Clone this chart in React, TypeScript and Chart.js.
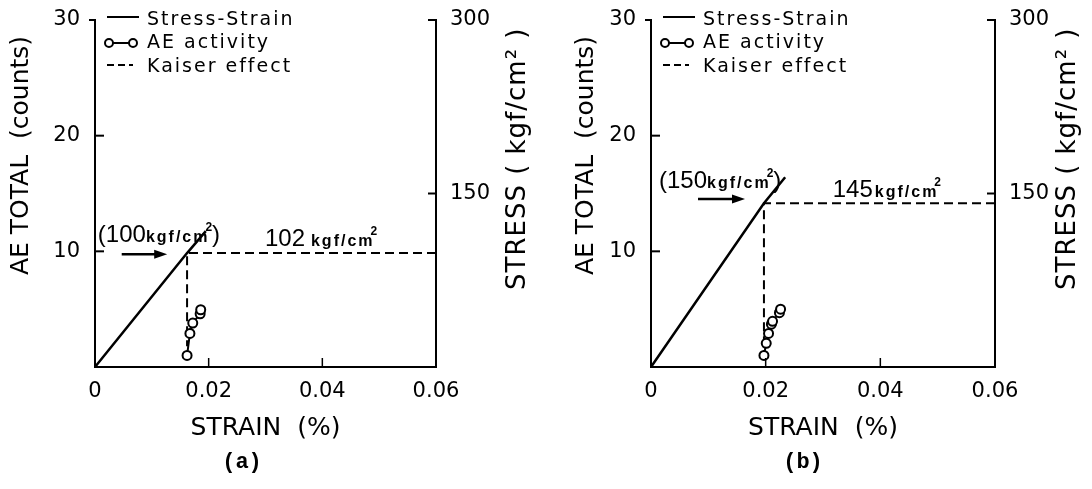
import React, { useEffect, useRef } from "react";
import { Chart, registerables } from "chart.js";

Chart.register(...registerables);

// ---------------- data ----------------
const STRAIN_TICKS = [0, 0.02, 0.04, 0.06];
const COUNT_TICKS = [10, 20, 30];
const STRESS_TICKS = [150, 300];
const LEGEND_LABELS = ["Stress-Strain", "AE activity", "Kaiser effect"];
const STRAIN_TITLE = "STRAIN  (%)";
const COUNT_TITLE = "AE TOTAL  (counts)";
const STRESS_TITLE = "STRESS ( kgf/cm² )";
const UNIT = "kgf/cm";

// panel (a)
const A_SS_STRAIN = [0, 0.0162, 0.0195];
const A_SS_STRESS = [0, 98.5, 117.5];
const A_KAISER_STRAIN = [0.06, 0.0162, 0.0162];
const A_KAISER_STRESS = [98.5, 98.5, 18];
const A_AE_STRAIN = [0.0162, 0.0167, 0.0172, 0.0185, 0.0186];
const A_AE_COUNTS = [1.0, 2.9, 3.8, 4.6, 4.95];
const A_STRESS_LABELS = [100, 102]; // previous loading, detected by Kaiser effect

// panel (b)
const B_SS_STRAIN = [0, 0.0197, 0.0234];
const B_SS_STRESS = [0, 141.5, 164];
const B_KAISER_STRAIN = [0.06, 0.0197, 0.0197];
const B_KAISER_STRESS = [141.5, 141.5, 8];
const B_AE_STRAIN = [0.0197, 0.0201, 0.0205, 0.021, 0.0212, 0.0224, 0.0226];
const B_AE_COUNTS = [1.0, 2.05, 2.9, 3.7, 3.95, 4.7, 5.0];
const B_STRESS_LABELS = [150, 145];

// ---------------- layout / style ----------------
const INK = "#000";
const W = 546;
const H = 489;

const PANELS = [
  {
    id: "a",
    caption: "(a)",
    ssStrain: A_SS_STRAIN,
    ssStress: A_SS_STRESS,
    kStrain: A_KAISER_STRAIN,
    kStress: A_KAISER_STRESS,
    aeStrain: A_AE_STRAIN,
    aeCounts: A_AE_COUNTS,
    labels: A_STRESS_LABELS,
    layout: {
      canvasLeft: 0,
      leftW: 95,
      rightW: 110,
      titlePad: 6,
      rightTitleDx: 82,
      captionDx: 147,
      priorAt: [0.0005, 108],
      arrow: [0.0047, 0.0127, 97.4],
      detectedAt: [0.0299, 104.6],
      unitGap: 6,
    },
  },
  {
    id: "b",
    caption: "(b)",
    ssStrain: B_SS_STRAIN,
    ssStress: B_SS_STRESS,
    kStrain: B_KAISER_STRAIN,
    kStress: B_KAISER_STRESS,
    aeStrain: B_AE_STRAIN,
    aeCounts: B_AE_COUNTS,
    labels: B_STRESS_LABELS,
    layout: {
      canvasLeft: 546,
      leftW: 105,
      rightW: 97,
      titlePad: 25,
      rightTitleDx: 73,
      captionDx: 152,
      priorAt: [0.0014, 154.4],
      arrow: [0.0082, 0.0164, 145.2],
      detectedAt: [0.0317, 146.7],
      unitGap: 2,
    },
  },
];

const zip = (xs: number[], ys: number[]) => xs.map((x, i) => ({ x, y: ys[i] }));

function stressLabel(ctx: any, x: number, y: number, value: number, paren: boolean, gap: number) {
  let cx = x;
  const big = '24px "Liberation Sans"';
  const small = 'bold 16px "Liberation Sans"';
  const sup = 'bold 12px "Liberation Sans"';
  ctx.textAlign = "left";
  ctx.textBaseline = "alphabetic";
  const put = (t: string, font: string, dy = 0, ls = "0px") => {
    ctx.font = font;
    ctx.letterSpacing = ls;
    ctx.fillText(t, cx, y + dy);
    cx += ctx.measureText(t).width;
  };
  if (paren) put("(", big);
  put(String(value), big);
  cx += gap;
  put(UNIT, small, 0, "2px");
  cx -= 4;
  put("2", sup, -11);
  if (paren) put(")", big);
}

function makeDecor(p: any) {
  const L = p.layout;
  return {
    id: "decor" + p.id,
    afterDraw(chart: any) {
      const ctx = chart.ctx;
      const ca = chart.chartArea;
      const xs = chart.scales.x;
      const ys = chart.scales.y;
      const y2 = chart.scales.y2;
      const line = (x1: number, y1: number, x2: number, y2_: number) => {
        ctx.beginPath();
        ctx.moveTo(x1, y1);
        ctx.lineTo(x2, y2_);
        ctx.stroke();
      };
      ctx.save();
      ctx.strokeStyle = INK;
      ctx.fillStyle = INK;
      ctx.setLineDash([]);

      // inward tick marks
      ctx.lineWidth = 2;
      for (const v of COUNT_TICKS) {
        const py = ys.getPixelForValue(v);
        if (v === COUNT_TICKS[COUNT_TICKS.length - 1]) line(ca.left - 6, py, ca.left, py);
        else line(ca.left, py, ca.left + 9, py);
      }
      for (const v of STRESS_TICKS) {
        const py = y2.getPixelForValue(v);
        line(ca.right - 8, py, ca.right, py);
      }
      ctx.lineWidth = 1.5;
      for (const v of STRAIN_TICKS) {
        if (v <= STRAIN_TICKS[0] || v >= STRAIN_TICKS[STRAIN_TICKS.length - 1]) continue;
        const px = xs.getPixelForValue(v);
        line(px, ca.bottom - 1, px, ca.bottom - 9);
      }

      // legend
      const lx1 = ca.left + 12;
      const lx2 = ca.left + 44;
      const tx = ca.left + 52;
      const r0 = ca.top - 3;
      const r1 = ca.top + 23;
      const r2 = ca.top + 45;
      ctx.lineWidth = 2;
      line(lx1, r0, lx2, r0);
      line(lx1 + 4, r1, lx2 - 4, r1);
      ctx.fillStyle = "#fff";
      for (const cx of [lx1 + 2, lx2 - 6]) {
        ctx.beginPath();
        ctx.arc(cx, r1, 4, 0, Math.PI * 2);
        ctx.fill();
        ctx.stroke();
      }
      ctx.fillStyle = INK;
      ctx.setLineDash([7, 4]);
      line(lx1, r2, lx2 - 6, r2);
      ctx.setLineDash([]);
      ctx.font = '19px "DejaVu Sans"';
      ctx.letterSpacing = "2px";
      ctx.textAlign = "left";
      ctx.textBaseline = "middle";
      ctx.fillText(LEGEND_LABELS[0], tx, r0 + 3);
      ctx.fillText(LEGEND_LABELS[1], tx, r1);
      ctx.fillText(LEGEND_LABELS[2], tx, r2 + 2);
      ctx.letterSpacing = "0px";

      // arrow pointing to previous maximum stress
      const ax1 = xs.getPixelForValue(L.arrow[0]);
      const ax2 = xs.getPixelForValue(L.arrow[1]);
      const ay = y2.getPixelForValue(L.arrow[2]);
      ctx.lineWidth = 2.5;
      line(ax1, ay, ax2 - 8, ay);
      ctx.beginPath();
      ctx.moveTo(ax2, ay);
      ctx.lineTo(ax2 - 13, ay - 4.5);
      ctx.lineTo(ax2 - 13, ay + 4.5);
      ctx.closePath();
      ctx.fill();

      // stress annotations
      stressLabel(ctx, xs.getPixelForValue(L.priorAt[0]), y2.getPixelForValue(L.priorAt[1]), p.labels[0], true, 0);
      stressLabel(ctx, xs.getPixelForValue(L.detectedAt[0]), y2.getPixelForValue(L.detectedAt[1]), p.labels[1], false, L.unitGap);

      // right axis title (reads bottom to top)
      ctx.save();
      ctx.translate(ca.right + L.rightTitleDx, ca.bottom - 77);
      ctx.rotate(-Math.PI / 2);
      ctx.font = '26px "DejaVu Sans"';
      ctx.letterSpacing = "1px";
      ctx.textAlign = "left";
      ctx.textBaseline = "middle";
      ctx.fillText(STRESS_TITLE, 0, 0);
      ctx.restore();

      // caption
      ctx.font = 'bold 22px "Liberation Mono"';
      ctx.letterSpacing = "0px";
      ctx.textAlign = "center";
      ctx.textBaseline = "middle";
      ctx.fillText(p.caption, ca.left + L.captionDx, 462);

      ctx.restore();
    },
  };
}

function buildConfig(p: any) {
  const L = p.layout;
  const tickFont = { family: "DejaVu Sans", size: 21 };
  const titleFont = { family: "DejaVu Sans", size: 25 };
  return {
    type: "line",
    data: {
      datasets: [
        {
          label: LEGEND_LABELS[1],
          data: zip(p.aeStrain, p.aeCounts),
          yAxisID: "y",
          borderColor: INK,
          borderWidth: 2,
          pointRadius: 4.5,
          pointBorderWidth: 2,
          pointBackgroundColor: "#fff",
          pointBorderColor: INK,
          showLine: true,
          order: 0,
          clip: false,
        },
        {
          label: LEGEND_LABELS[0],
          data: zip(p.ssStrain, p.ssStress),
          yAxisID: "y2",
          borderColor: INK,
          borderWidth: 2.5,
          pointRadius: 0,
          order: 1,
          clip: false,
        },
        {
          label: LEGEND_LABELS[2],
          data: zip(p.kStrain, p.kStress),
          yAxisID: "y2",
          borderColor: INK,
          borderWidth: 2,
          borderDash: [9, 5],
          pointRadius: 0,
          order: 2,
          clip: false,
        },
      ],
    },
    options: {
      responsive: false,
      animation: false,
      devicePixelRatio: 1,
      layout: { padding: { top: 20, left: 0, right: 0, bottom: 0 } },
      plugins: { legend: { display: false }, tooltip: { enabled: false } },
      elements: { line: { tension: 0 } },
      scales: {
        x: {
          type: "linear",
          position: "bottom",
          min: STRAIN_TICKS[0],
          max: STRAIN_TICKS[STRAIN_TICKS.length - 1],
          afterBuildTicks: (s: any) => {
            s.ticks = STRAIN_TICKS.map((v) => ({ value: v }));
          },
          afterFit: (s: any) => {
            s.height = 122;
          },
          grid: { display: false },
          border: { display: true, color: INK, width: 2 },
          ticks: {
            padding: 4,
            color: INK,
            font: tickFont,
            maxRotation: 0,
            autoSkip: false,
            callback: (v: any) => (Number(v) === 0 ? "0" : Number(v).toFixed(2)),
          },
          title: {
            display: true,
            text: STRAIN_TITLE,
            color: INK,
            font: titleFont,
            padding: { top: 0, bottom: 46 },
          },
        },
        y: {
          type: "linear",
          position: "left",
          min: 0,
          max: 30,
          afterBuildTicks: (s: any) => {
            s.ticks = COUNT_TICKS.map((v) => ({ value: v }));
          },
          afterFit: (s: any) => {
            s.width = L.leftW;
          },
          grid: { display: false },
          border: { display: true, color: INK, width: 2 },
          ticks: { padding: 7, color: INK, font: tickFont, callback: (v: any) => String(v) },
          title: {
            display: true,
            text: COUNT_TITLE + "  ",
            align: "end",
            color: INK,
            font: titleFont,
            padding: { top: L.titlePad, bottom: 0 },
          },
        },
        y2: {
          type: "linear",
          position: "right",
          min: 0,
          max: 300,
          afterBuildTicks: (s: any) => {
            s.ticks = STRESS_TICKS.map((v) => ({ value: v }));
          },
          afterFit: (s: any) => {
            s.width = L.rightW;
          },
          grid: { display: false },
          border: { display: true, color: INK, width: 2 },
          ticks: { padding: 6, color: INK, font: tickFont, callback: (v: any) => String(v) },
        },
      },
    },
    plugins: [makeDecor(p)],
  };
}

function Panel({ spec }: { spec: any }) {
  const ref = useRef<HTMLCanvasElement>(null);
  useEffect(() => {
    if (!ref.current) return;
    const chart = new Chart(ref.current, buildConfig(spec) as any);
    return () => chart.destroy();
  }, [spec]);
  return (
    <canvas
      ref={ref}
      width={W}
      height={H}
      style={{ position: "absolute", left: spec.layout.canvasLeft, top: 0, width: W, height: H }}
    />
  );
}

export default function App() {
  return (
    <div
      style={{
        position: "absolute",
        left: 0,
        top: 0,
        width: 1092,
        height: 489,
        background: "#fff",
        overflow: "hidden",
      }}
    >
      {PANELS.map((p) => (
        <Panel key={p.id} spec={p} />
      ))}
    </div>
  );
}
